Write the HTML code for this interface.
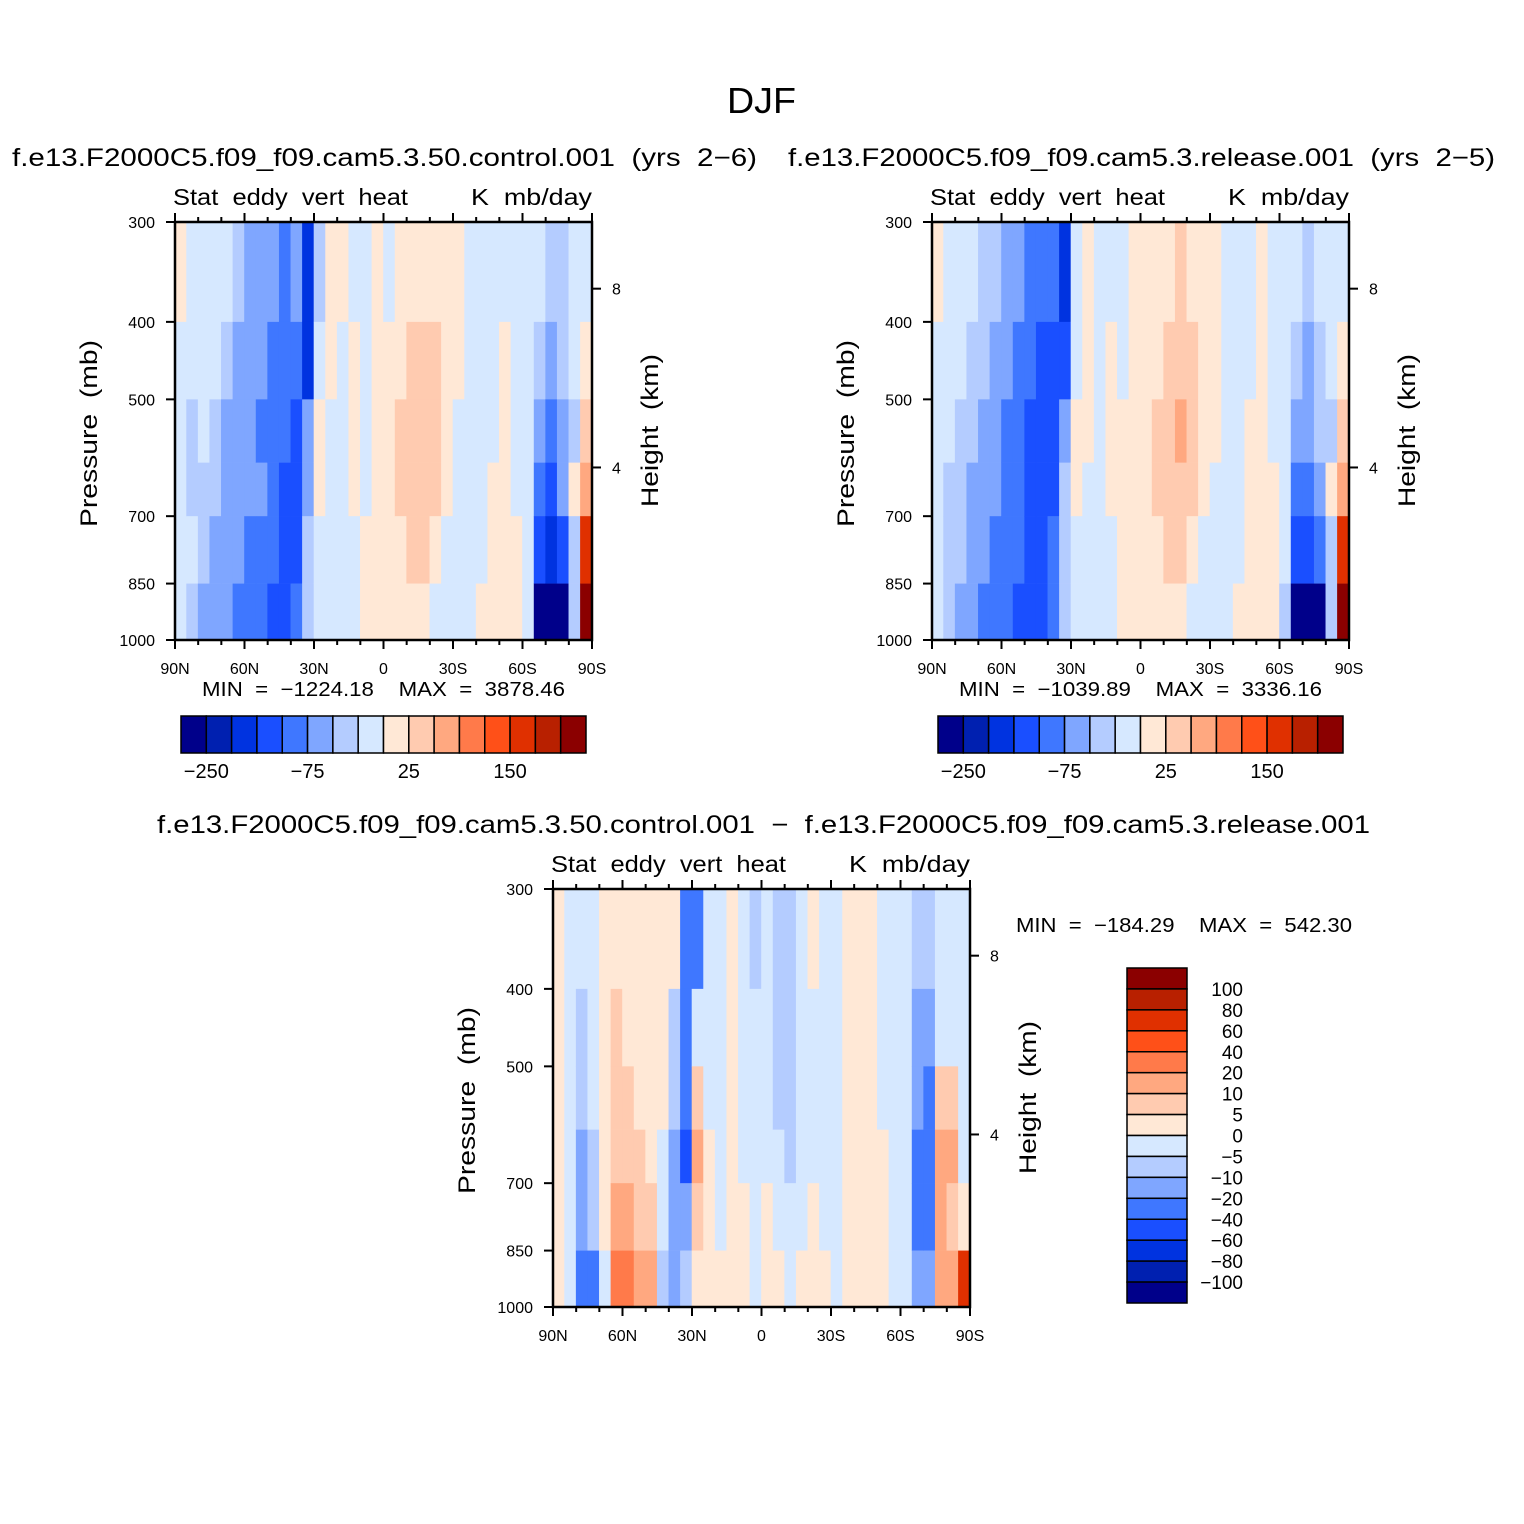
<!DOCTYPE html>
<html><head><meta charset="utf-8"><style>
html,body{margin:0;padding:0;background:#fff}
svg{display:block}
text{font-family:"Liberation Sans",sans-serif;fill:#000;white-space:pre}
</style></head><body>
<svg id="fig" width="1524" height="1524" viewBox="0 0 1524 1524" xmlns="http://www.w3.org/2000/svg">
<rect width="1524" height="1524" fill="#fff"/>
<text x="727" y="113" font-size="36" textLength="69" lengthAdjust="spacingAndGlyphs">DJF</text>
</svg>
<script>
const colors=["#00008a","#0020b0","#0033e0","#1a4fff","#3f77ff","#7fa6ff","#b4ccff","#d6e8ff","#ffe8d6","#ffcbb0","#ffa880","#ff7a4a","#ff5018","#e03000","#b82000","#8b0000"];
const levelsTop=[-250,-200,-150,-100,-75,-50,-25,0,25,50,75,100,150,200,250];
const levelsDiff=[-100,-80,-60,-40,-20,-10,-5,0,5,10,20,40,60,80,100];
const latCenters=[87.5,82.5,77.5,72.5,67.5,62.5,57.5,52.5,47.5,42.5,37.5,32.5,27.5,22.5,17.5,12.5,7.5,2.5,-2.5,-7.5,-12.5,-17.5,-22.5,-27.5,-32.5,-37.5,-42.5,-47.5,-52.5,-57.5,-62.5,-67.5,-72.5,-77.5,-82.5,-87.5];
const pressureBounds=[300,400,500,600,700,850,1000];
const pressureTicks=[300,400,500,700,850,1000];
const heightTicks=[8,4];
const latTicks=[90,60,30,0,-30,-60,-90];
const latTickLabels=["90N","60N","30N","0","30S","60S","90S"];
const topCbLabels=["−250","−75","25","150"];
const diffCbLabels=["100","80","60","40","20","10","5","0","−5","−10","−20","−40","−60","−80","−100"];
const controlValues=[
[10,-10,-10,-10,-10,-10],[-10,-10,-30,-30,-10,-30],[-10,-10,-10,-30,-30,-60],[-10,-10,-30,-30,-60,-60],
[-10,-30,-60,-60,-60,-60],[-30,-60,-60,-60,-60,-90],[-60,-60,-60,-60,-90,-90],[-60,-60,-90,-60,-90,-90],
[-60,-90,-90,-90,-90,-120],[-90,-90,-90,-120,-120,-120],[-60,-90,-120,-120,-120,-90],[-180,-180,-60,-60,-30,-30],
[-30,-10,10,10,-10,-10],[10,10,-10,-10,-10,-10],[10,-10,-10,-10,-10,-10],[-10,10,10,10,-10,-10],
[-10,-10,-10,-10,10,10],[10,10,10,10,10,10],[-10,10,10,10,10,10],[10,10,30,30,10,10],
[10,30,30,30,30,10],[10,30,30,30,30,10],[10,30,30,30,10,-10],[10,10,10,10,-10,-10],
[10,10,-10,-10,-10,-10],[-10,-10,-10,-10,-10,-10],[-10,-10,-10,-10,-10,10],[-10,-10,-10,10,10,10],
[-10,10,10,10,10,10],[-10,-10,-10,-10,10,10],[-10,-10,-10,-10,-10,-10],[-10,-30,-60,-90,-120,-260],
[-30,-60,-90,-120,-180,-260],[-30,-30,-60,-60,-120,-260],[-10,-10,-30,10,-30,-30],[-10,10,30,60,160,260]];
const releaseValues=[
[10,-10,-10,-10,-10,-10],[-10,-10,-10,-30,-30,-30],[-10,-10,-30,-30,-30,-60],[-10,-30,-30,-60,-60,-60],
[-30,-30,-60,-60,-60,-90],[-30,-60,-60,-60,-90,-90],[-60,-60,-90,-90,-90,-90],[-60,-90,-90,-90,-90,-120],
[-90,-90,-120,-120,-120,-120],[-90,-120,-120,-120,-120,-120],[-90,-120,-120,-120,-90,-90],[-180,-150,-60,-30,-30,-30],
[-10,-10,10,10,-10,-10],[10,10,10,-10,-10,-10],[-10,-10,-10,-10,-10,-10],[-10,10,10,10,-10,-10],
[-10,-10,10,10,10,10],[10,10,10,10,10,10],[10,10,10,10,10,10],[10,10,30,30,10,10],
[10,30,30,30,30,10],[30,30,60,30,30,10],[10,30,30,30,10,-10],[10,10,10,10,-10,-10],
[10,10,10,-10,-10,-10],[-10,-10,-10,-10,-10,-10],[-10,-10,-10,-10,-10,10],[-10,-10,10,10,10,10],
[10,10,10,10,10,10],[-10,-10,-10,10,10,10],[-10,-10,-10,-10,-10,-30],[-10,-30,-60,-90,-120,-260],
[-30,-60,-60,-90,-120,-260],[-10,-30,-30,-60,-90,-260],[-10,-10,-30,10,-30,-30],[-10,10,30,60,160,260]];
const diffValues=[
[3,3,3,3,3,3],[-3,-3,-3,-3,-3,-3],[-3,-8,-8,-15,-15,-30],[-3,-3,-3,-8,-8,-30],
[3,3,3,3,3,-3],[3,8,8,8,15,30],[3,3,8,8,15,30],[3,3,3,8,8,15],
[3,3,3,3,8,15],[3,3,3,-3,-3,-8],[3,-8,-8,-15,-15,-15],[-30,-30,-30,-50,-15,-8],
[-30,-3,8,15,8,3],[-3,-3,-3,3,3,3],[-3,-3,-3,-3,-3,3],[3,3,3,3,3,3],
[-3,-3,-3,-3,3,3],[-8,-3,-3,-3,-3,-3],[-3,-3,-3,-3,3,3],[-8,-8,-8,-3,-3,3],
[-8,-8,-8,-8,-3,-3],[-3,-3,-3,-3,-3,3],[3,-3,-3,-3,3,3],[-3,-3,-3,-3,-3,3],
[-3,-3,-3,-3,-3,-3],[3,3,3,3,3,3],[3,3,3,3,3,3],[3,3,3,3,3,3],
[-3,-3,-3,3,3,3],[-3,-3,-3,-3,-3,-3],[-3,-3,-3,-3,-3,-3],[-8,-15,-15,-30,-30,-15],
[-8,-15,-30,-30,-30,-15],[-3,-3,8,15,15,15],[-3,-3,8,15,8,15],[-3,-3,-3,-3,3,60]];

const NS="http://www.w3.org/2000/svg";
const svg=document.getElementById('fig');
function mk(tag,attrs,parent,txt){const e=document.createElementNS(NS,tag);for(const k in attrs)e.setAttribute(k,attrs[k]);if(txt!==undefined)e.textContent=txt;(parent||svg).appendChild(e);return e;}
function colorFor(v,lv){let i=0;while(i<lv.length&&v>=lv[i])i++;return colors[i];}

function panel(o){
  const g=mk('g',{});
  
  
  const X=lat=>o.x+(90-lat)/180*o.w;
  const Y=p=>o.y+o.h-Math.log(1000/p)/Math.log(1000/300)*o.h;
  const H=z=>o.y+o.h-(z-0.14)/(9.3-0.14)*o.h*0.9795;
  o.values.forEach((col,ci)=>{
    const lat=latCenters[ci];
    col.forEach((v,ri)=>{
      const r=mk('rect',{x:X(lat+2.5)-0.3,y:Y(pressureBounds[ri]),width:X(lat-2.5)-X(lat+2.5)+0.6,height:Y(pressureBounds[ri+1])-Y(pressureBounds[ri])+0.3,fill:colorFor(v,o.levels)},g);
      
      
    });
  });
  mk('rect',{x:o.x,y:o.y,width:o.w,height:o.h,fill:'none',stroke:'#000','stroke-width':2.5},g);
  for(let lat=90;lat>=-90;lat-=10){
    const major=lat%30===0;const len=major?9:5;const x=X(lat);
    mk('line',{x1:x,x2:x,y1:o.y+o.h,y2:o.y+o.h+len,stroke:'#000','stroke-width':2},g);
    mk('line',{x1:x,x2:x,y1:o.y,y2:o.y-len,stroke:'#000','stroke-width':2},g);
  }
  latTicks.forEach((lat,i)=>{
    const t=mk('text',{x:X(lat),y:o.y+o.h+34,'font-size':16,'text-anchor':'middle'},g,latTickLabels[i]);
    
    
  });
  pressureTicks.forEach(p=>{
    const y=Y(p);
    mk('line',{x1:o.x-9,x2:o.x,y1:y,y2:y,stroke:'#000','stroke-width':2},g);
    const t=mk('text',{x:o.x-20,y:y+6,'font-size':16,'text-anchor':'end'},g,String(p));
    
    
  });
  heightTicks.forEach(z=>{
    const y=H(z);
    mk('line',{x1:o.x+o.w,x2:o.x+o.w+9,y1:y,y2:y,stroke:'#000','stroke-width':2},g);
    const t=mk('text',{x:o.x+o.w+20,y:y+6,'font-size':16},g,String(z));
    
    
  });
  let t=mk('text',{x:o.x-2,y:o.y-17,'font-size':23,textLength:235,lengthAdjust:'spacingAndGlyphs'},g,'Stat  eddy  vert  heat');
  
  t=mk('text',{x:o.x+o.w-121,y:o.y-17,'font-size':23,textLength:121,lengthAdjust:'spacingAndGlyphs'},g,'K  mb/day');
  
  t=mk('text',{x:-93,y:0,'font-size':24,textLength:187,lengthAdjust:'spacingAndGlyphs',transform:`translate(${o.x-78},${o.y+o.h/2+3}) rotate(-90)`},g,'Pressure  (mb)');
  
  t=mk('text',{x:-76,y:0,'font-size':24,textLength:153,lengthAdjust:'spacingAndGlyphs',transform:`translate(${o.x+o.w+66},${o.y+209}) rotate(-90)`},g,'Height  (km)');
  
}

function hCbar(x0,y0,w,h,name){
  const g=mk('g',{});
  const bw=w/16;
  colors.forEach((c,i)=>{const r=mk('rect',{x:x0+i*bw,y:y0,width:bw,height:h,fill:c,stroke:'#000','stroke-width':1.5},g);
    });
  const idx=[1,5,9,13];
  topCbLabels.forEach((l,i)=>{const t=mk('text',{x:x0+idx[i]*bw,y:y0+h+25,'font-size':20,'text-anchor':'middle'},g,l);
    });
}

function txt(x,y,s,size,name,len){const t=mk('text',{x:x,y:y,'font-size':size,textLength:len,lengthAdjust:'spacingAndGlyphs'},svg,s);
  }

txt(12,166,'f.e13.F2000C5.f09_f09.cam5.3.50.control.001  (yrs  2−6)',25,'left-panel-title',745);
txt(788,166,'f.e13.F2000C5.f09_f09.cam5.3.release.001  (yrs  2−5)',25,'right-panel-title',707);
txt(157,833,'f.e13.F2000C5.f09_f09.cam5.3.50.control.001  −  f.e13.F2000C5.f09_f09.cam5.3.release.001',25,'diff-panel-title',1213);

panel({name:'control-plot',x:175,y:222,w:417,h:418,values:controlValues,levels:levelsTop});
panel({name:'release-plot',x:932,y:222,w:417,h:418,values:releaseValues,levels:levelsTop});
panel({name:'diff-plot',x:553,y:889,w:417,h:418,values:diffValues,levels:levelsDiff});

txt(202,696,'MIN  =  −1224.18    MAX  =  3878.46',20,'control-min-max',363);
txt(959,696,'MIN  =  −1039.89    MAX  =  3336.16',20,'release-min-max',363);
txt(1016,932,'MIN  =  −184.29    MAX  =  542.30',20,'diff-min-max',336);
hCbar(181,716,405,37,'control-colorbar');
hCbar(938,716,405,37,'release-colorbar');

(function(){
  const g=mk('g',{});
  const x0=1127,y0=968,w=60,h=335,bh=h/16;
  colors.slice().reverse().forEach((c,i)=>{const r=mk('rect',{x:x0,y:y0+i*bh,width:w,height:bh,fill:c,stroke:'#000','stroke-width':1.5},g);
    });
  diffCbLabels.forEach((l,i)=>{const t=mk('text',{x:1243,y:y0+(i+1)*bh+7,'font-size':19,'text-anchor':'end'},g,l);
    });
})();
</script>
</body></html>
